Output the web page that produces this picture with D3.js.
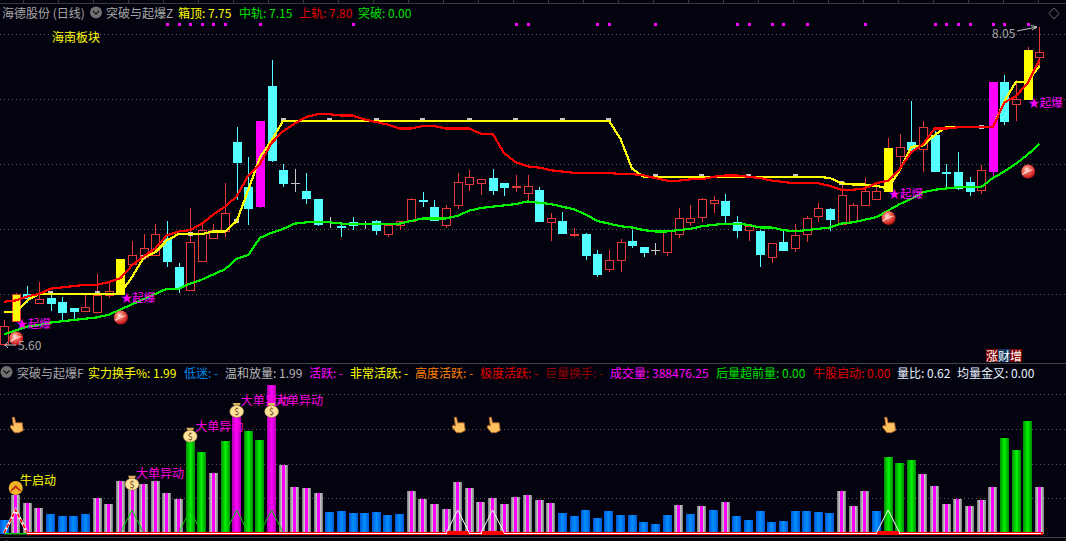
<!DOCTYPE html>
<html><head><meta charset="utf-8">
<script src="https://cdn.jsdelivr.net/npm/d3@7"></script>
<style>
html,body{margin:0;padding:0;background:#03030f;overflow:hidden}
svg{display:block}
text{font-family:"Noto Sans CJK SC","Noto Sans",sans-serif;font-size:12px;dominant-baseline:central}
</style></head><body><svg id="c" width="1066" height="541"></svg>
<script>
// ---------- data (daily bars, oldest first) ----------
const kinds = "u y d u d d d u u u y u u u d d u u u u d d m d d g d d g d d g d u u u d d u u u u d d u u d u d u d d u u d d g u u u u u d d u d u d u u u d u u u u y u d u d d d d u m d u y u".split(" ");
const open  = [5.61,5.79,6.00,5.93,5.97,5.94,5.89,5.87,5.86,5.99,6.00,6.23,6.28,6.30,6.43,6.21,6.03,6.25,6.43,6.48,7.17,6.82,6.68,7.60,6.95,6.85,6.79,6.73,6.55,6.52,6.55,6.54,6.56,6.46,6.53,6.56,6.72,6.67,6.53,6.68,6.85,6.85,6.89,6.85,6.82,6.78,6.80,6.55,6.56,6.46,6.46,6.31,6.19,6.26,6.41,6.36,6.33,6.32,6.46,6.55,6.59,6.70,6.71,6.55,6.49,6.48,6.28,6.40,6.35,6.46,6.60,6.65,6.54,6.56,6.68,6.73,6.79,7.06,7.17,7.11,7.22,6.94,6.94,6.86,6.80,6.95,7.63,7.46,7.49,7.82];
const close = [5.75,6.00,5.97,5.96,5.93,5.86,5.87,5.90,5.99,6.02,6.27,6.30,6.35,6.46,6.25,6.06,6.40,6.49,6.49,6.62,7.02,6.66,7.33,7.03,6.85,6.85,6.74,6.54,6.55,6.51,6.53,6.54,6.49,6.53,6.56,6.73,6.71,6.57,6.66,6.86,6.90,6.88,6.80,6.82,6.83,6.83,6.56,6.58,6.47,6.46,6.30,6.16,6.26,6.40,6.38,6.32,6.33,6.48,6.58,6.58,6.73,6.72,6.60,6.49,6.52,6.30,6.39,6.34,6.45,6.58,6.66,6.57,6.76,6.68,6.79,6.79,7.12,7.13,7.12,7.28,6.94,6.93,6.82,6.79,6.95,7.63,7.33,7.50,7.87,7.86];
const high  = [5.80,6.01,6.06,6.09,6.00,5.98,5.89,6.01,6.15,6.09,6.27,6.41,6.46,6.54,6.56,6.24,6.66,6.54,6.54,6.85,7.28,7.05,7.33,7.80,7.00,6.96,6.93,6.73,6.59,6.55,6.59,6.56,6.57,6.54,6.56,6.74,6.78,6.72,6.68,6.93,6.95,6.88,6.96,6.85,6.91,6.91,6.82,6.62,6.63,6.51,6.47,6.34,6.34,6.42,6.49,6.36,6.39,6.49,6.66,6.68,6.74,6.75,6.77,6.60,6.54,6.49,6.39,6.49,6.54,6.60,6.70,6.66,6.85,6.70,6.89,6.86,7.20,7.23,7.48,7.33,7.25,7.00,7.09,6.90,6.99,7.63,7.68,7.64,7.90,8.05];
const low   = [5.60,5.79,5.93,5.93,5.87,5.79,5.80,5.86,5.85,5.97,6.00,6.23,6.26,6.30,6.21,6.01,6.03,6.25,6.43,6.44,6.72,6.53,6.66,7.01,6.82,6.78,6.69,6.52,6.51,6.44,6.49,6.50,6.45,6.44,6.49,6.56,6.67,6.56,6.51,6.65,6.79,6.76,6.76,6.75,6.78,6.71,6.56,6.41,6.47,6.44,6.26,6.13,6.17,6.17,6.35,6.28,6.30,6.29,6.43,6.52,6.55,6.62,6.54,6.43,6.41,6.21,6.24,6.34,6.32,6.40,6.55,6.48,6.53,6.55,6.68,6.72,6.79,6.98,7.09,6.94,6.94,6.82,6.80,6.75,6.77,6.89,7.30,7.33,7.49,7.75];
const boxTop = [5.86,5.86,5.95,6.00,6.00,6.00,6.00,6.00,6.00,6.00,6.00,6.13,6.28,6.32,6.41,6.46,6.46,6.46,6.48,6.48,6.56,6.80,7.05,7.18,7.33,7.33,7.33,7.33,7.33,7.33,7.33,7.33,7.33,7.33,7.33,7.33,7.33,7.33,7.33,7.33,7.33,7.33,7.33,7.33,7.33,7.33,7.33,7.33,7.33,7.33,7.33,7.33,7.33,7.19,6.96,6.90,6.90,6.90,6.90,6.90,6.90,6.90,6.90,6.90,6.90,6.90,6.90,6.90,6.90,6.90,6.90,6.89,6.85,6.84,6.84,6.83,6.81,6.95,7.13,7.14,7.22,7.28,7.28,7.28,7.28,7.28,7.48,7.63,7.63,7.75];
const upperRail = [5.94,5.95,5.98,6.00,6.04,6.05,6.06,6.07,6.07,6.09,6.12,6.22,6.29,6.35,6.45,6.48,6.49,6.54,6.61,6.67,6.75,6.91,7.00,7.16,7.25,7.31,7.36,7.38,7.38,7.37,7.37,7.34,7.32,7.30,7.27,7.27,7.29,7.29,7.27,7.27,7.27,7.23,7.23,7.08,7.01,6.98,6.97,6.95,6.94,6.93,6.93,6.93,6.93,6.92,6.92,6.91,6.89,6.87,6.87,6.88,6.88,6.90,6.91,6.91,6.90,6.89,6.87,6.86,6.85,6.85,6.85,6.83,6.80,6.80,6.81,6.85,6.87,6.96,7.09,7.15,7.27,7.27,7.28,7.28,7.28,7.28,7.47,7.52,7.62,7.80];
const midRail = [5.69,5.72,5.75,5.76,5.78,5.79,5.80,5.81,5.82,5.84,5.88,5.92,5.96,6.00,6.04,6.04,6.08,6.11,6.15,6.19,6.27,6.30,6.43,6.47,6.50,6.54,6.55,6.55,6.55,6.54,6.54,6.54,6.54,6.54,6.54,6.56,6.58,6.58,6.58,6.60,6.64,6.66,6.67,6.68,6.69,6.71,6.70,6.69,6.67,6.65,6.61,6.56,6.54,6.52,6.51,6.49,6.48,6.48,6.49,6.50,6.52,6.53,6.54,6.54,6.53,6.51,6.51,6.49,6.48,6.49,6.50,6.51,6.54,6.55,6.57,6.59,6.64,6.69,6.73,6.78,6.80,6.81,6.82,6.82,6.82,6.89,6.94,7.00,7.07,7.15];
const volume = [112,321,251,212,162,145,145,162,296,246,439,371,413,439,338,288,774,681,506,774,992,857,782,1243,573,388,380,338,179,187,170,170,179,154,162,355,288,246,204,430,380,263,296,246,304,321,279,254,170,145,196,128,187,154,154,95,78,154,237,162,229,196,263,145,112,187,95,103,187,187,179,170,355,229,355,187,640,589,614,497,397,246,288,229,279,388,799,698,941,388];
const volumeKinds = "b a a a b b b b a a a a a a a a g g a g m g g m a a a a b b b b b b b a a a a a a a a a a a a a b b b b b b b b b b a b a b a b b b b b b b b b a a a b g g g a a a a a a a g g g a".split(" ");
const priceTicks = [6.0,6.5,7.0,7.5,8.0];
const volumeTicks = [291,582,875,1168];
const topDots = [14,15,16,17,18,19,22,30,44,45,51,52,56,63,64,66,67,69,74,80,81,82,83,85,86,88];
const ignitions = [1,10,76,88];
const bigOrders = [11,16,20,23];
const hands = [1,39,42,76];
const whitePeaks = [39,42,76];
const boxMarks = [4,8,12,16,20,24,28,32,36,40,44,48,52,56,60,64,68,72,84];
const header1 = [
 ["海德股份 (日线)",2,"#a8a8a8"],["突破与起爆Z",106,"#a8a8a8"],["箱顶: 7.75",178,"#ffff00"],
 ["中轨: 7.15",239,"#00e000"],["上轨: 7.80",299,"#e00000"],["突破: 0.00",358,"#00e000"]];
const header2 = [
 ["突破与起爆F",17,"#a8a8a8"],["实力换手%: 1.99",88,"#ffff00"],["低迷: -",184,"#0088e8"],
 ["温和放量: 1.99",225,"#b8b8b8"],["活跃: -",309,"#ff00ff"],["非常活跃: -",350,"#ffff00"],
 ["高度活跃: -",415,"#ff8000"],["极度活跃: -",480,"#e00000"],["巨量换手: -",545,"#900000"],
 ["成交量: 388476.25",610,"#ff00ff"],["后量超前量: 0.00",716,"#00e000"],["牛股启动: 0.00",813,"#e00000"],
 ["量比: 0.62",897,"#e8f0ff"],["均量金叉: 0.00",957,"#e8f0ff"]];

// ---------- scales ----------
const x = d3.scaleLinear().domain([0,89]).range([4.07,1039.3]);
const y = d3.scaleLinear().domain([8.05,5.60]).range([27,346]);
const v = d3.scaleLinear().domain([0,1257]).range([533,383]);
const svg = d3.select("#c");
const BG="#03030f";
svg.append("rect").attr("width",1066).attr("height",541).attr("fill",BG);
const defs = svg.append("defs");
function hGrad(id,stops){const g=defs.append("linearGradient").attr("id",id);
  stops.forEach(s=>g.append("stop").attr("offset",s[0]).attr("stop-color",s[1]));}
hGrad("gBlue",[[0,"#0058d8"],[.5,"#0090ff"],[1,"#0058d8"]]);
hGrad("gGreen",[[0,"#008c00"],[.5,"#00f400"],[1,"#008c00"]]);
hGrad("gMag",[[0,"#b000b0"],[.5,"#ff00ff"],[1,"#b000b0"]]);
hGrad("gGray",[[0,"#787878"],[.3,"#c8c8c8"],[.31,"#ff00ff"],[.69,"#ff00ff"],[.7,"#c8c8c8"],[1,"#787878"]]);
const rg = defs.append("radialGradient").attr("id","gBall").attr("cx",.4).attr("cy",.35).attr("r",.7);
[[0,"#ffe8e0"],[.35,"#f07060"],[.8,"#d02020"],[1,"#801010"]].forEach(s=>rg.append("stop").attr("offset",s[0]).attr("stop-color",s[1]));

// frame lines and grid
const crisp = s=>s.attr("shape-rendering","crispEdges");
crisp(svg.append("g").selectAll("line").data([[3,"#3a3a3a"],[363,"#454545"],[537,"#454545"]]).join("line")
  .attr("x1",0).attr("x2",1066).attr("y1",d=>d[0]+.5).attr("y2",d=>d[0]+.5).attr("stroke",d=>d[1]));
crisp(svg.append("g").selectAll("line").data(d3.range(23,1066,35)).join("line")
  .attr("x1",d=>d+.5).attr("x2",d=>d+.5).attr("y1",0).attr("y2",3).attr("stroke","#3a3a3a"));
const dotted=(sel,ys)=>crisp(sel.append("g").selectAll("line").data(ys).join("line")
  .attr("x1",0).attr("x2",1066).attr("y1",d=>Math.round(d)+.5).attr("y2",d=>Math.round(d)+.5)
  .attr("stroke","#5a5a5a").attr("stroke-dasharray","1 3"));
dotted(svg,priceTicks.map(y));
dotted(svg,volumeTicks.map(v));

// volume bars
const BW=9;
crisp(svg.append("g").selectAll("rect").data(volume).join("rect")
  .attr("x",(d,i)=>Math.round(x(i)-BW/2)).attr("width",BW)
  .attr("y",d=>v(d)).attr("height",d=>534-v(d))
  .attr("fill",(d,i)=>({b:"url(#gBlue)",g:"url(#gGreen)",m:"url(#gMag)",a:"url(#gGray)"})[volumeKinds[i]]));

// candles
const colr={u:"#e8393a",d:"#54ffff",g:"#c4c4c4",y:"#ffff00",m:"#ff00ff"};
const cg=svg.append("g");
open.forEach((o,i)=>{
  const k=kinds[i],cx=Math.round(x(i))+.5,c=close[i],top=y(Math.max(o,c)),bot=y(Math.min(o,c));
  const wc=(k==="y")?"#e8393a":colr[k];
  crisp(cg.append("line").attr("x1",cx).attr("x2",cx).attr("y1",y(high[i])).attr("y2",y(low[i])).attr("stroke",wc));
  if(k==="g"){crisp(cg.append("line").attr("x1",cx-4.5).attr("x2",cx+4.5).attr("y1",top).attr("y2",top).attr("stroke",wc));return;}
  const r=crisp(cg.append("rect").attr("x",cx-4).attr("width",8).attr("y",Math.round(top)+.5).attr("height",Math.max(1,Math.round(bot-top))));
  if(k==="u") r.attr("fill",BG).attr("stroke",colr.u);
  else r.attr("fill",colr[k]).attr("stroke",i===1?colr.u:colr[k]);
});

// rails
const lineGen=d3.line().x((d,i)=>x(i)).y(d=>y(d));
const rail=(data,col)=>svg.append("path").attr("d",lineGen(data)).attr("fill","none").attr("stroke",col)
  .attr("stroke-width",2.2).attr("shape-rendering","crispEdges");
crisp(svg.append("g").selectAll("rect").data(boxMarks).join("rect")
  .attr("x",d=>x(d)-2.5).attr("y",d=>y(boxTop[d])-2.5).attr("width",5).attr("height",4).attr("fill","#c8c8c8"));
rail(boxTop,"#ffff00");
rail(upperRail,"#ff0000");
rail(midRail,"#00f400");

// top dots
crisp(svg.append("g").selectAll("rect").data(topDots).join("rect")
  .attr("x",d=>Math.round(x(d))-1).attr("y",23).attr("width",3).attr("height",3).attr("fill","#ff00ff"));

// signal balls and labels
const labelText=(sx,sy,t,col,anchor)=>svg.append("text").attr("x",sx).attr("y",sy).attr("fill",col).attr("text-anchor",anchor||"start").text(t);
ignitions.forEach(i=>{
  const bx=x(i)+.5,by=y(midRail[i])+{1:8,10:8,76:7.5,88:17}[i];
  const b=svg.append("g").attr("transform",`translate(${bx},${by})`);
  b.append("circle").attr("r",7).attr("fill","url(#gBall)");
  b.append("path").attr("d","M-6,2 Q0,-3 6,-2 Q0,0 -6,4Z").attr("fill","#ffe6e0").attr("opacity",.7);
  labelText(bx,y(low[i])+{1:2,10:3,76:2,88:2}[i],"★起爆","#ff00ff").style("font-size","11.5px");
});

// price annotations
labelText(52,36,"海南板块","#ffff00");
labelText(992,32,"8.05","#a8a8a8");
svg.append("path").attr("d","M1017,31 L1037,27 M1031,25.5 L1037,27 L1032,30").attr("fill","none").attr("stroke","#c0c0c0");
labelText(18,344,"5.60","#a8a8a8");
svg.append("path").attr("d","M16,345 L5,345 M8,342 L5,345 L8,348").attr("fill","none").attr("stroke","#c0c0c0");
svg.append("path").attr("d","M1054,8 L1059,13.5 L1054,19 L1049,13.5Z").attr("fill","none").attr("stroke","#666");

// stamp
[[986,"#800000","涨"],[998,"#103860","财"],[1010,"#800000","增"]].forEach(s=>{
  svg.append("rect").attr("x",s[0]).attr("y",349).attr("width",12).attr("height",13).attr("fill",s[1]);
  labelText(s[0]+6,355.5,s[2],"#ffffff","middle");
});

// volume triangles
const base=533;
const tri=i=>`M${x(i-1)},${base} L${x(i)},510 L${x(i+1)},${base}`;
bigOrders.forEach(i=>svg.append("path").attr("d",tri(i)).attr("fill","none").attr("stroke","#00d000").attr("stroke-width",1));
svg.append("rect").attr("x",x(1)-11).attr("y",533).attr("width",22).attr("height",1.5).attr("fill","#00c000");
svg.append("path").attr("d",tri(1)).attr("fill","none").attr("stroke","#ffffff").attr("stroke-width",2.6);
svg.append("path").attr("d",tri(1)).attr("fill","none").attr("stroke","#ff0000").attr("stroke-width",1.6).attr("stroke-dasharray","4 2");
crisp(svg.append("rect").attr("x",x(2)).attr("y",532).attr("width",x(89)-x(2)+4).attr("height",3).attr("fill","#ff0000"));
crisp(svg.append("rect").attr("x",x(2)).attr("y",533).attr("width",x(89)-x(2)+2).attr("height",1).attr("fill","#ffffff"));
whitePeaks.forEach(i=>{
  crisp(svg.append("rect").attr("x",x(i)-11).attr("y",531).attr("width",22).attr("height",3).attr("fill","#ff0000"));
  svg.append("path").attr("d",tri(i)).attr("fill","none").attr("stroke","#ffffff").attr("stroke-width",1);
});

// hands
hands.forEach(i=>{
  const g=svg.append("g").attr("transform",`translate(${x(i)+1},425) scale(1.1)`);
  g.append("path").attr("d","M-4,-7 L-2,-7 L-1,-2 L5,-2 L6,5 L2,7 L-2,7 L-6,2 L-5,0 L-3,1Z")
   .attr("fill","#ffc060").attr("stroke","#a8602a").attr("stroke-width",.8);
});

// money bags and their labels
bigOrders.forEach(i=>{
  const by=Math.max(v(volume[i])-6,410);
  const g=svg.append("g").attr("transform",`translate(${x(i)},${by})`);
  g.append("path").attr("d","M-4,-7 L4,-7 L2,-3 L-2,-3Z").attr("fill","#d8b060");
  g.append("ellipse").attr("cy",1.5).attr("rx",7).attr("ry",6).attr("fill","#ffe39a").attr("stroke","#8a6a30").attr("stroke-width",.6);
  g.append("text").attr("y",1.5).attr("text-anchor","middle").attr("fill","#604010").style("font-size","9px").text("$");
  const off={11:[4,-10],16:[5,-9.5],20:[4,-11],23:[3.5,-11]}[i];
  labelText(x(i)+off[0],by+off[1],"大单异动","#ff00e0");
});
// start marker
const sm=svg.append("g").attr("transform",`translate(${x(1)},488)`);
sm.append("circle").attr("r",7).attr("fill","#f5b52a");
sm.append("path").attr("d","M-5,2 L0,-3 L5,2 L5,4 L0,0 L-5,4Z").attr("fill","#c03010");
labelText(20,479.5,"牛启动","#ffff00");

// headers
const hd=(list,yy)=>svg.append("g").selectAll("text").data(list).join("text")
  .attr("x",d=>d[1]).attr("y",yy).attr("fill",d=>d[2]).text(d=>d[0]);
hd(header1,12.5);hd(header2,372);
[[96,12.5],[6.5,372],[6.5,546.5]].forEach(p=>{
  svg.append("circle").attr("cx",p[0]).attr("cy",p[1]).attr("r",6).attr("fill","#707070");
  svg.append("path").attr("d",`M${p[0]-3},${p[1]-1.5} L${p[0]},${p[1]+1.5} L${p[0]+3},${p[1]-1.5}`).attr("fill","none").attr("stroke","#111").attr("stroke-width",1.2);
});
</script></body></html>
